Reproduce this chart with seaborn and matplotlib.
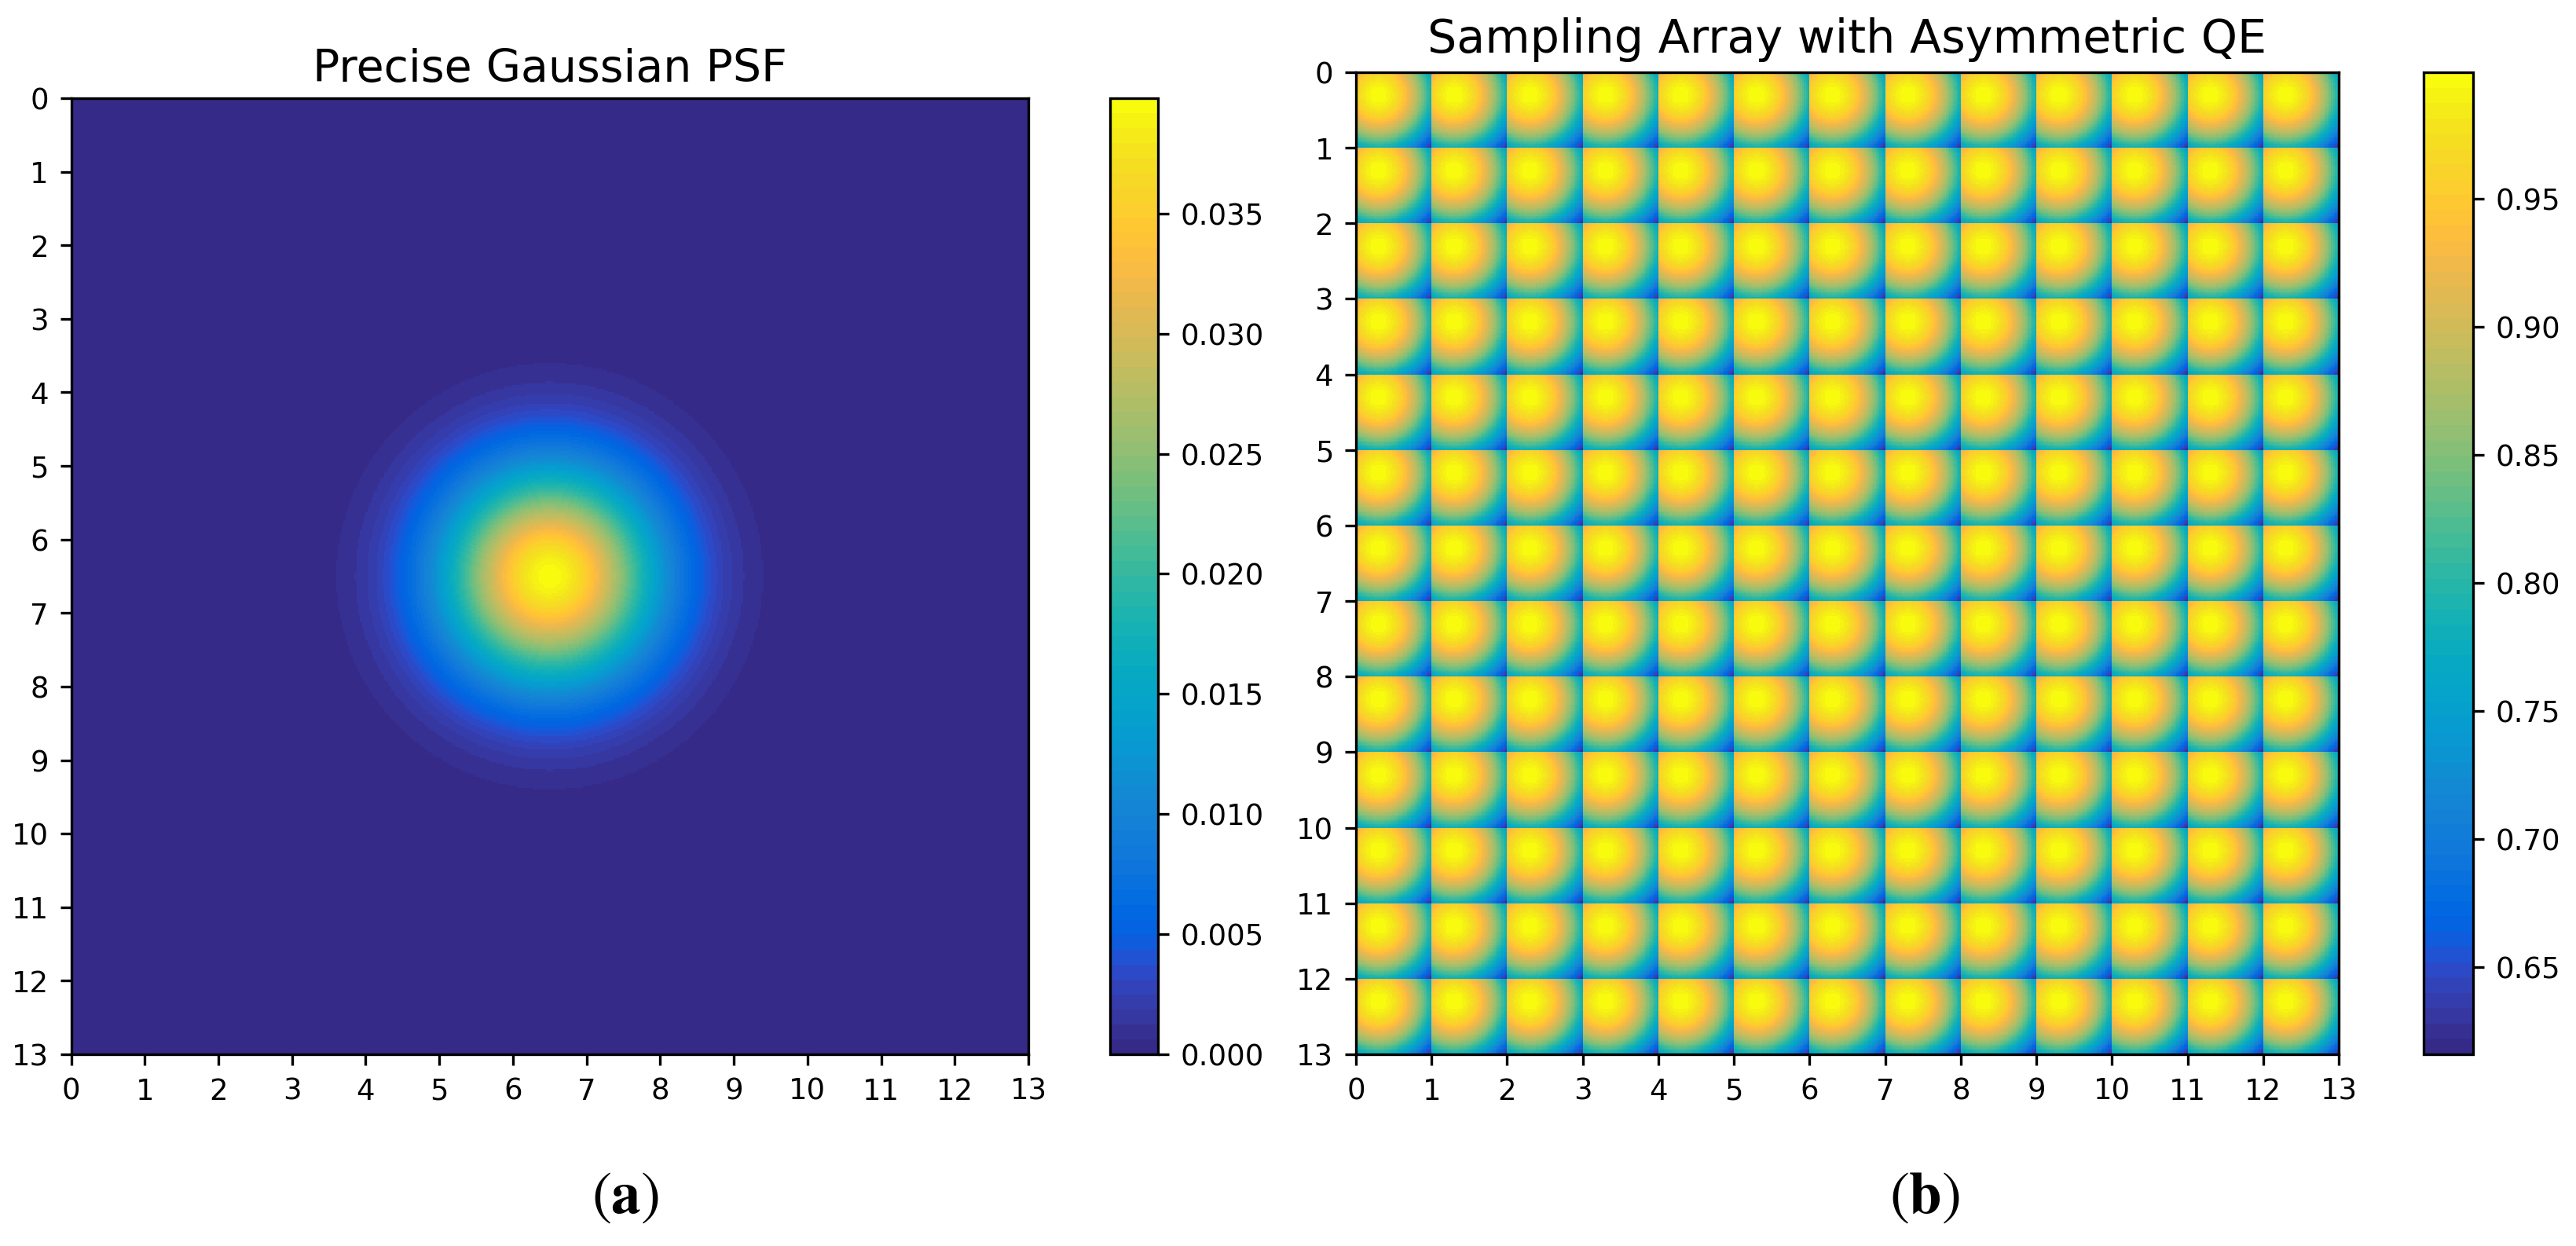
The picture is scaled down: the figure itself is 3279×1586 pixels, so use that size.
import numpy as np
import matplotlib
matplotlib.use("Agg")
import matplotlib.pyplot as plt
from matplotlib.colors import ListedColormap
import seaborn as sns

# Colour table of the bar (64 visible bands, bottom to top)
PARULA = [
 (0.2081,0.1663,0.5292),(0.2116,0.1898,0.5777),(0.2123,0.2138,0.6270),(0.2081,0.2386,0.6771),
 (0.1959,0.2645,0.7279),(0.1707,0.2919,0.7792),(0.1253,0.3242,0.8303),(0.0591,0.3598,0.8683),
 (0.0117,0.3875,0.8820),(0.0060,0.4086,0.8828),(0.0165,0.4266,0.8786),(0.0329,0.4430,0.8720),
 (0.0498,0.4586,0.8641),(0.0629,0.4737,0.8554),(0.0723,0.4887,0.8467),(0.0779,0.5040,0.8384),
 (0.0793,0.5200,0.8312),(0.0749,0.5375,0.8263),(0.0641,0.5570,0.8240),(0.0488,0.5772,0.8228),
 (0.0343,0.5966,0.8199),(0.0265,0.6137,0.8135),(0.0239,0.6287,0.8038),(0.0231,0.6418,0.7913),
 (0.0228,0.6535,0.7768),(0.0267,0.6642,0.7607),(0.0384,0.6743,0.7436),(0.0590,0.6838,0.7254),
 (0.0843,0.6928,0.7062),(0.1133,0.7015,0.6859),(0.1453,0.7098,0.6646),(0.1801,0.7177,0.6424),
 (0.2178,0.7250,0.6193),(0.2586,0.7317,0.5954),(0.3022,0.7376,0.5712),(0.3482,0.7424,0.5473),
 (0.3953,0.7459,0.5244),(0.4420,0.7481,0.5033),(0.4871,0.7491,0.4840),(0.5300,0.7491,0.4661),
 (0.5709,0.7485,0.4494),(0.6099,0.7473,0.4337),(0.6473,0.7456,0.4188),(0.6834,0.7435,0.4044),
 (0.7184,0.7411,0.3905),(0.7525,0.7384,0.3768),(0.7858,0.7356,0.3633),(0.8185,0.7327,0.3498),
 (0.8507,0.7299,0.3360),(0.8824,0.7274,0.3217),(0.9139,0.7258,0.3063),(0.9450,0.7261,0.2886),
 (0.9739,0.7314,0.2666),(0.9938,0.7455,0.2403),(0.9990,0.7653,0.2164),(0.9955,0.7861,0.1967),
 (0.9880,0.8066,0.1794),(0.9789,0.8271,0.1633),(0.9697,0.8481,0.1475),(0.9626,0.8705,0.1309),
 (0.9589,0.8949,0.1132),(0.9598,0.9218,0.0948),(0.9661,0.9514,0.0755),(0.9763,0.9831,0.0538),
]

# Panel (a): PSF value against distance from the spot centre
PSF_CENTRE = (6.5, 6.5)
PSF_RADII = [0, .2, .4, .6, .8, 1.0, 1.2, 1.4, 1.6, 1.8, 2.0, 2.2, 2.4, 2.6, 2.8, 3.0, 3.4, 4.0]
PSF_VALUES = [.03979, .03900, .03671, .03324, .02889, .02413, .01937, .01493, .01106,
              .00787, .00539, .00354, .00223, .00135, .00079, .00044, .00012, .00001]
PSF_RANGE = (0.0, 0.0398)
PSF_TICKS = [0.000, 0.005, 0.010, 0.015, 0.020, 0.025, 0.030, 0.035]

# Panel (b): QE of one sampling cell against distance from its bright spot
QE_SPOT = (0.30, 0.30)
QE_RADII = [0, .1, .2, .3, .4, .5, .6, .7, .8, .9, 1.0, 1.1]
QE_VALUES = [.9995, .995, .980, .956, .923, .882, .835, .783, .726, .667, .607, .546]
QE_RANGE = (0.616, 0.9995)
QE_TICKS = [0.65, 0.70, 0.75, 0.80, 0.85, 0.90, 0.95]

N_CELLS = 13
AXIS_TICKS = list(range(N_CELLS + 1))
TITLES = ["Precise Gaussian PSF", "Sampling Array with Asymmetric QE"]
PANEL_LABELS = [r"$(\mathbf{a})$", r"$(\mathbf{b})$"]

W, H = 3279, 1586
SUB = 40  # raster elements per cell

plt.rcParams.update({"font.family": "DejaVu Sans", "font.size": 8.9,
                     "mathtext.fontset": "stix", "axes.linewidth": 0.8})

def box(fig, l, t, r, b):
    return fig.add_axes([l / W, 1 - b / H, (r - l) / W, (b - t) / H])

def finish(ax, cax, title, ticks, fmt, size, pad):
    ax.set_xticks(np.array(AXIS_TICKS) * SUB, labels=AXIS_TICKS, rotation=0)
    ax.set_yticks(np.array(AXIS_TICKS) * SUB, labels=AXIS_TICKS, rotation=0)
    ax.tick_params(length=3.4, width=0.8, labelsize=8.9)
    for s in ax.spines.values():
        s.set_visible(True)
        s.set_linewidth(0.8)
    ax.set_title(title, fontsize=size, pad=pad)
    cb = ax.collections[0].colorbar
    cb.set_ticks(ticks, labels=[fmt.format(t) for t in ticks])
    cb.outline.set_visible(True)
    cb.outline.set_linewidth(0.8)
    cax.tick_params(length=3.4, width=0.8, labelsize=8.9)

cmap = ListedColormap(PARULA)

# Panel (a) field
axis = (np.arange(N_CELLS * SUB) + 0.5) / SUB
X, Y = np.meshgrid(axis, axis)
psf = np.interp(np.hypot(X - PSF_CENTRE[0], Y - PSF_CENTRE[1]), PSF_RADII, PSF_VALUES)

# Panel (b) field: one cell repeated over the array
c = (np.arange(SUB) + 0.5) / SUB
cx, cy = np.meshgrid(c, c)
cell = np.interp(np.hypot(cx - QE_SPOT[0], cy - QE_SPOT[1]), QE_RADII, QE_VALUES)
qe = np.tile(cell, (N_CELLS, N_CELLS))

fig = plt.figure(figsize=(W / 300, H / 300), dpi=300, facecolor="white")

ax1 = box(fig, 90.6, 125, 1309, 1342)
cax1 = box(fig, 1413, 125, 1474, 1342)
sns.heatmap(psf, ax=ax1, cbar_ax=cax1, cmap=cmap, vmin=PSF_RANGE[0], vmax=PSF_RANGE[1],
            xticklabels=False, yticklabels=False, rasterized=True)
finish(ax1, cax1, TITLES[0], PSF_TICKS, "{:.3f}", 13.7, 5)

ax2 = box(fig, 1726, 92, 2977, 1342)
cax2 = box(fig, 3085, 92, 3148, 1342)
sns.heatmap(qe, ax=ax2, cbar_ax=cax2, cmap=cmap, vmin=QE_RANGE[0], vmax=QE_RANGE[1],
            xticklabels=False, yticklabels=False, rasterized=True)
finish(ax2, cax2, TITLES[1], QE_TICKS, "{:.2f}", 14.1, 6)

fig.text(796 / W, 1 - 1523 / H, PANEL_LABELS[0], fontsize=18, ha="center", va="center")
fig.text(2450 / W, 1 - 1523 / H, PANEL_LABELS[1], fontsize=18, ha="center", va="center")

fig.savefig("out.png", dpi=300, facecolor="white")
